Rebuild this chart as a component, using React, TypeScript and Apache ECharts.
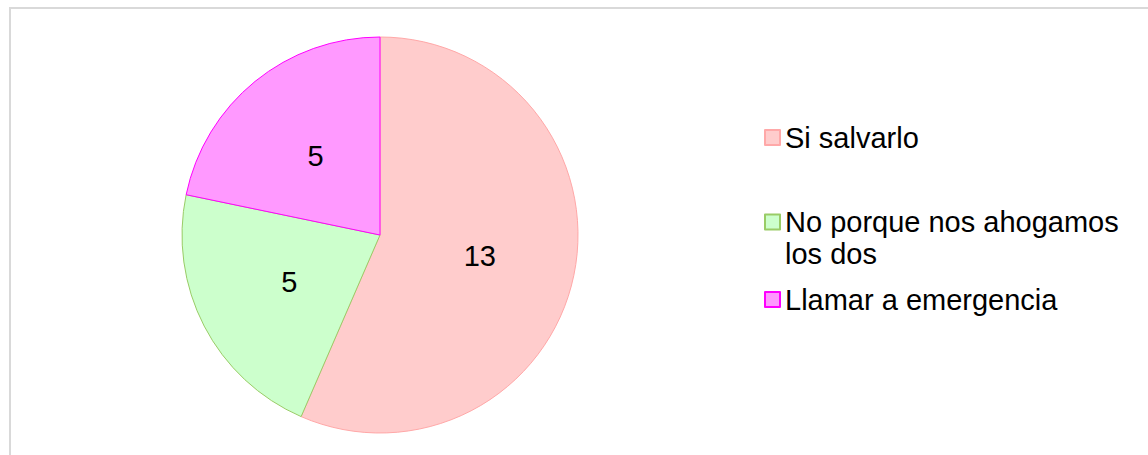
import React, { useEffect, useRef } from "react";
import * as echarts from "echarts";

const categories = ["Si salvarlo", "No porque nos ahogamos los dos", "Llamar a emergencia"];
const legendLabels = ["Si salvarlo", "\nNo porque nos ahogamos\nlos dos", "Llamar a emergencia"];
const values = [13, 5, 5];

const fillColors = ["#FFCCCC", "#CCFFCC", "#FF99FF"];
const borderColors = ["#FFA8A8", "#99CC66", "#FF00FF"];
const FONT = "'Liberation Sans', Arial, sans-serif";

export default function App() {
  const ref = useRef<HTMLDivElement>(null);
  useEffect(() => {
    document.body.style.margin = "0";
    if (!ref.current) return;
    const chart = echarts.init(ref.current, undefined, { renderer: "svg" });
    const legendTops = [121.5, 174, 283.5];
    chart.setOption({
      animation: false,
      backgroundColor: "#ffffff",
      graphic: [
        {
          type: "rect",
          shape: { x: 10, y: 8, width: 1300, height: 600 },
          style: { fill: "none", stroke: "#d9d9d9", lineWidth: 2 },
          silent: true,
        },
      ],
      legend: categories.map((name, i) => ({
        data: [name],
        orient: "vertical",
        left: 764,
        top: legendTops[i],
        padding: 0,
        icon: "rect",
        itemWidth: 15,
        itemHeight: 15,
        selectedMode: false,
        formatter: () => legendLabels[i],
        textStyle: {
          fontFamily: FONT,
          fontSize: 29,
          color: "#000000",
          lineHeight: 32,
        },
      })),
      series: [
        {
          type: "pie",
          center: [380, 235],
          radius: 198,
          startAngle: 90,
          clockwise: true,
          silent: true,
          emphasis: { disabled: true },
          label: {
            show: true,
            position: "inside",
            formatter: "{c}",
            fontFamily: FONT,
            fontSize: 29,
            color: "#000000",
          },
          labelLine: { show: false },
          data: categories.map((name, i) => ({
            name,
            value: values[i],
            itemStyle: {
              color: fillColors[i],
              borderColor: borderColors[i],
              borderWidth: 1,
            },
          })),
        },
      ],
    });
    return () => chart.dispose();
  }, []);
  return <div ref={ref} style={{ width: 1148, height: 455 }} />;
}
